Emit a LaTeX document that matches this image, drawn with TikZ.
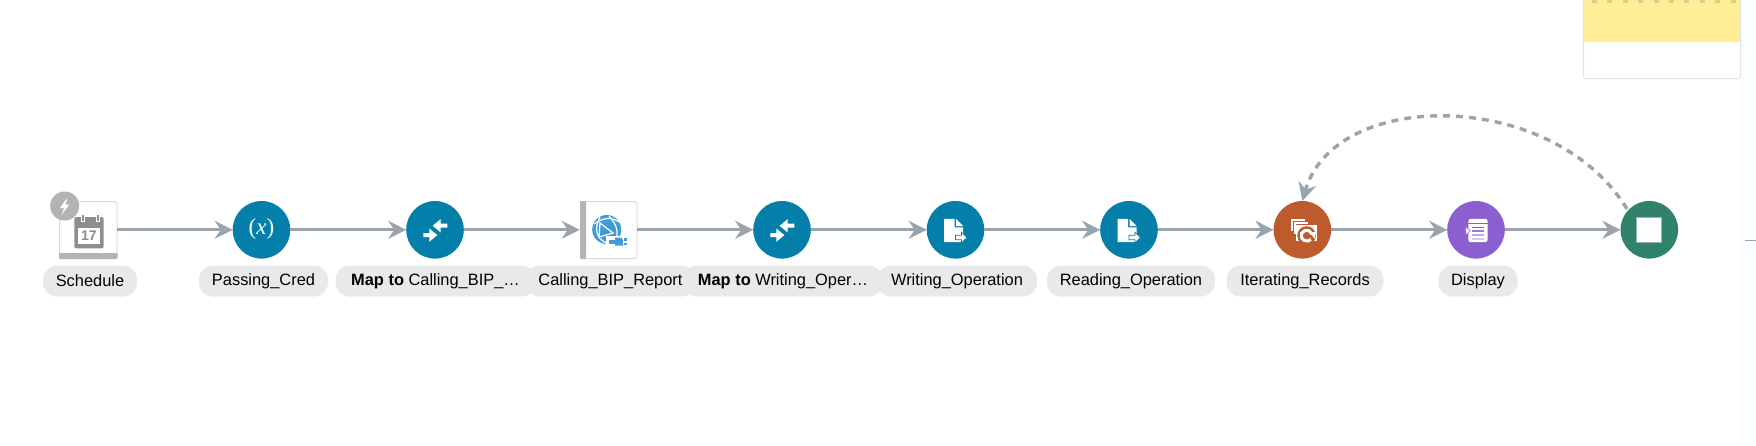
\documentclass[tikz,border=0pt]{standalone}
\usepackage{fontspec}
\setmainfont{Liberation Sans}
\newfontfamily\glyphserif{Liberation Serif}
\usetikzlibrary{arrows.meta}
\definecolor{edgec}{HTML}{98A4AE}
\definecolor{teal}{HTML}{047FAA}
\definecolor{rust}{HTML}{BE5B2D}
\definecolor{violet2}{HTML}{8B5FCF}
\definecolor{green2}{HTML}{31826A}
\definecolor{pill}{HTML}{E9E9E9}
\definecolor{grayb}{HTML}{B3B3B3}
\definecolor{calc}{HTML}{8C8F92}
\definecolor{globe}{HTML}{3F9BD9}
\definecolor{noteyellow}{HTML}{FFEE96}
\definecolor{notedot}{HTML}{D6D08C}
\definecolor{noteedge}{HTML}{DFE5E8}
\definecolor{sidebg}{HTML}{FAFEFF}
\tikzset{
  flowline/.style={draw=edgec,line width=3.3pt,-{Stealth[length=18pt,width=18pt,inset=6pt]}},
  loopline/.style={draw=edgec,line width=3.4pt,dash pattern=on 7pt off 6pt,-{Stealth[length=18pt,width=18pt,inset=6pt]}},
  circ/.style={circle,minimum size=57.6pt,inner sep=0pt,outer sep=0pt},
  tealc/.style={circ,fill=teal},
  sq/.style={rectangle,minimum size=57.6pt,inner sep=0pt,outer sep=0pt},
  lab/.style={rounded corners=14pt,fill=pill,minimum height=31pt,inner sep=0pt,text=black,font=\fontsize{16.4}{19}\selectfont},
}
\newcommand{\maparrows}[2]{%
  \begin{scope}[shift={(#1,#2)}]
    \fill[white] (-2.3,-4) -- (5.7,-10.7) -- (5.7,-6.3) -- (12.3,-6.3) -- (12.3,-2.3) -- (5.7,-2.3) -- (5.7,2.7) -- cycle;
    \fill[white] (2.3,5.3) -- (-5.7,-1.3) -- (-5.7,3.3) -- (-11.7,3.3) -- (-11.7,7.3) -- (-5.7,7.3) -- (-5.7,12) -- cycle;
  \end{scope}}
\newcommand{\docicon}[2]{%
  \begin{scope}[shift={(#1,#2)}]
    \fill[white] (-11.3,-11) -- (-1,-11) -- (-1,-2.5) -- (7.7,-2.5) -- (7.7,12.3) -- (-11.3,12.3) -- cycle;
    \fill[white] (0.5,-11) -- (7.7,-3.8) -- (0.5,-3.8) -- cycle;
    \fill[white,draw=teal,line width=0.7pt] (0,5.5) -- (6,5.5) -- (6,2.5) -- (11.5,7.8) -- (6,13) -- (6,10) -- (0,10) -- cycle;
  \end{scope}}
\begin{document}
\begin{tikzpicture}[x=1pt,y=-1pt]
\useasboundingbox (0,0) rectangle (1756,445);
\fill[white] (0,0) rectangle (1756,445);
\fill[sidebg] (1741,0) rectangle (1756,445);
\draw[edgec,line width=1pt] (1745,240) -- (1756,240);
% note
\fill[white] (1583,0) rectangle (1740.5,78.5);
\fill[noteyellow] (1584,0) rectangle (1740,42);
\foreach \i in {0,...,9} \fill[notedot] (1592+15.4*\i,0) rectangle ++(5,3);
\draw[rounded corners=2pt,draw=noteedge,line width=1pt] (1583.5,-5) -- (1583.5,78.5) -- (1740.5,78.5) -- (1740.5,-5);
% nodes
\node[sq] (schedule) at (88,229.8) {};
\node[tealc] (cred) at (261.5,229.8) {};
\node[tealc] (map1) at (435,229.8) {};
\node[sq] (bip) at (608.5,229.8) {};
\node[tealc] (map2) at (782,229.8) {};
\node[tealc] (write) at (955.5,229.8) {};
\node[tealc] (read) at (1129,229.8) {};
\node[circ,fill=rust] (iter) at (1302.3,229.8) {};
\node[circ,fill=violet2] (disp) at (1476,229.8) {};
\node[circ,fill=green2] (stop) at (1649.3,229.8) {};
% schedule box
\draw[rounded corners=2pt,draw=gray!30,line width=1pt,fill=white] (59.5,201.5) rectangle (117,258.5);
\fill[grayb,rounded corners=1pt] (59,253) rectangle (117.5,259);
\fill[calc,rounded corners=2pt] (74.3,217) rectangle (103.7,248.3);
\fill[white] (77.7,228) rectangle (100.3,244);
\foreach \tx in {81,96} {
  \fill[white] (\tx,214.5) rectangle (\tx+4,222);
  \fill[calc] (\tx+1,215) rectangle (\tx+3,221);
}
\node[font=\bfseries\fontsize{14}{14}\selectfont,text=calc,inner sep=0pt] (daynum) at (89,236) {17};
\node[circle,fill=grayb,minimum size=29pt,inner sep=0pt] (badge) at (64.7,206) {};
\fill[white] (67.5,197.5) -- (60,208) -- (64,208) -- (61.5,215) -- (69.5,204.5) -- (65.5,204.5) -- cycle;
% bip box
\draw[rounded corners=2pt,draw=gray!30,line width=1pt,fill=white] (580.5,201.5) rectangle (637,258.5);
\fill[grayb,rounded corners=1pt] (580,201) rectangle (586,259);
\fill[globe] (606.7,229.5) circle (14.5);
\draw[white,line width=1.2pt] (600,217) .. controls (594,228) and (596,238) .. (606,243);
\draw[white,line width=1.2pt] (594,224) .. controls (604,217) and (612,217) .. (619,222);
\draw[white,line width=1.2pt] (609,216) .. controls (618,226) and (618,232) .. (616,241);
\draw[white,line width=1.2pt] (600,223) -- (599,237) -- (613,233) -- cycle;
\fill[white] (606,236) rectangle (630,248);
\fill[globe] (609,240) rectangle (616,243.5);
\fill[globe] (615,237.5) -- (621,237.5) -- (623,240) -- (623,245.5) -- (615,245.5) -- cycle;
\fill[globe] (624,238) rectangle (626.5,240.8);
\fill[globe] (624,242.5) rectangle (626.5,245.3);
% glyphs
\node[text=white,inner sep=0pt,font=\glyphserif\fontsize{23}{23}\selectfont] (xglyph) at (261.5,228.5) {(\textit{x})};
\maparrows{435}{229.8}
\maparrows{782}{229.8}
\docicon{955.5}{229.8}
\docicon{1129}{229.8}
% iterate icon
\begin{scope}[shift={(1302.3,229.8)}]
  \foreach \d in {0,3,6} \fill[white,draw=rust,line width=0.7pt,shift={(\d,\d)}] (-12,-11) rectangle (3,2);
  \fill[white] (-6,-5) rectangle (15,11);
  \fill[rust] (4.3,5.7) circle (9.3);
  \draw[white,line width=3pt] (9.5,4) arc[start angle=-20,end angle=-320,radius=5.5];
  \fill[white] (7,2.5) -- (13.5,2) -- (12.5,9) -- cycle;
\end{scope}
% display icon
\begin{scope}[shift={(1476,229.8)}]
  \fill[white,rounded corners=2.5pt] (-7.7,-11) rectangle (11.7,12.3);
  \fill[violet2] (-7.7,-7.2) rectangle (11.7,-6.5);
  \foreach \yy/\o in {-3/100,0.5/85,4.5/55,8.5/35} \fill[violet2!\o!white] (-4.3,\yy) rectangle (8.3,\yy+1.5);
  \fill[white,draw=violet2,line width=.5pt] (-10.5,-3) -- (-5.5,1) -- (-10.5,5) -- cycle;
\end{scope}
% stop icon
\fill[white,draw=gray!45!green2!60,line width=1pt] (1636.5,217.5) rectangle (1661.5,242.5);
% connectors
\draw[flowline] (schedule.east) -- (cred.west);
\draw[flowline] (cred.east) -- (map1.west);
\draw[flowline] (map1.east) -- (bip.west);
\draw[flowline] (bip.east) -- (map2.west);
\draw[flowline] (map2.east) -- (write.west);
\draw[flowline] (write.east) -- (read.west);
\draw[flowline] (read.east) -- (iter.west);
\draw[flowline] (iter.east) -- (disp.west);
\draw[flowline] (disp.east) -- (stop.west);
\coordinate (loopstart) at (1627,209);
\draw[loopline] (loopstart) .. controls (1553,88) and (1335,88) .. (iter.north);
% labels
\node[lab,minimum width=94pt] (l1) at (90,281) {Schedule};
\node[lab,minimum width=129pt] (l2) at (263.5,281) {Passing\_Cred};
\node[lab,minimum width=200pt] (l3) at (435.5,281) {\textbf{Map to} Calling\_BIP\_…};
\node[lab,minimum width=170pt] (l4) at (610.5,281) {Calling\_BIP\_Report};
\node[lab,minimum width=200pt] (l5) at (783,281) {\textbf{Map to} Writing\_Oper…};
\node[lab,minimum width=160pt] (l6) at (957,281) {Writing\_Operation};
\node[lab,minimum width=168pt] (l7) at (1131,281) {Reading\_Operation};
\node[lab,minimum width=157pt] (l8) at (1305,281) {Iterating\_Records};
\node[lab,minimum width=79pt] (l9) at (1478,281) {Display};
\end{tikzpicture}
\end{document}
